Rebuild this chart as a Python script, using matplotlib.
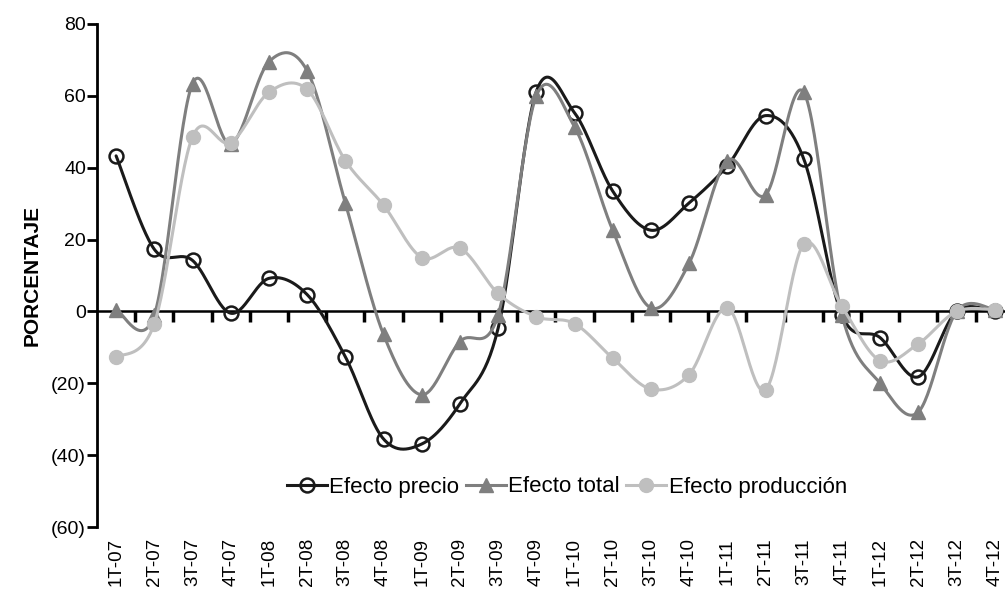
import numpy as np
import matplotlib
matplotlib.use('agg')
import matplotlib.pyplot as plt
from matplotlib.ticker import FuncFormatter, FixedLocator
from matplotlib.lines import Line2D

plt.rcParams['font.family'] = ['Liberation Sans', 'DejaVu Sans']

quarters = ['1T-07', '2T-07', '3T-07', '4T-07', '1T-08', '2T-08', '3T-08', '4T-08',
            '1T-09', '2T-09', '3T-09', '4T-09', '1T-10', '2T-10', '3T-10', '4T-10',
            '1T-11', '2T-11', '3T-11', '4T-11', '1T-12', '2T-12', '3T-12', '4T-12']

efecto_precio = [43.3, 17.3, 14.2, -0.5, 9.2, 4.7, -12.6, -35.5,
                 -36.9, -25.7, -4.7, 61.2, 55.3, 33.5, 22.6, 30.2,
                 40.5, 54.5, 42.5, -1.0, -7.3, -18.2, 0.0, 0.0]
efecto_total = [0.5, -1.0, 63.4, 46.6, 69.5, 67.0, 30.2, -6.4,
                -23.2, -8.4, -1.0, 60.0, 51.4, 22.6, 1.0, 13.4,
                42.0, 32.4, 61.0, -1.0, -20.0, -28.0, 0.0, 0.5]
efecto_produccion = [-12.8, -3.4, 48.6, 47.0, 61.0, 61.8, 42.0, 29.6,
                     15.0, 17.6, 5.0, -1.5, -3.4, -13.0, -21.6, -17.6,
                     1.0, -21.8, 18.7, 1.4, -13.7, -9.0, 0.0, 0.5]


def smooth(y, n=30):
    # bezier smoothing like the spreadsheet "smoothed line"
    y = np.asarray(y, dtype=float)
    x = np.arange(len(y), dtype=float)
    xs, ys = [], []
    for i in range(len(y) - 1):
        p0 = (x[max(i - 1, 0)], y[max(i - 1, 0)])
        p1 = (x[i], y[i])
        p2 = (x[i + 1], y[i + 1])
        p3 = (x[min(i + 2, len(y) - 1)], y[min(i + 2, len(y) - 1)])
        c1 = (p1[0] + (p2[0] - p0[0]) / 6, p1[1] + (p2[1] - p0[1]) / 6)
        c2 = (p2[0] - (p3[0] - p1[0]) / 6, p2[1] - (p3[1] - p1[1]) / 6)
        t = np.linspace(0, 1, n)
        for k in range(2):
            pts = ((1 - t) ** 3 * p1[k] + 3 * (1 - t) ** 2 * t * c1[k]
                   + 3 * (1 - t) * t ** 2 * c2[k] + t ** 3 * p2[k])
            (xs if k == 0 else ys).append(pts)
    return np.concatenate(xs), np.concatenate(ys)


fig = plt.figure(figsize=(10.05, 5.91), dpi=100)
ax = fig.add_axes([97 / 1005, 1 - 527 / 591, 908 / 1005, 503 / 591])

x = np.arange(len(quarters))
series = [
    (efecto_precio, 'Efecto precio', '#1a1a1a', 'o', dict(markerfacecolor='none', markeredgewidth=1.8, markersize=10)),
    (efecto_total, 'Efecto total', '#7f7f7f', '^', dict(markersize=10)),
    (efecto_produccion, 'Efecto producción', '#bfbfbf', 'o', dict(markersize=10)),
]
handles = []
for z, (vals, lab, col, mk, mkw) in enumerate(series):
    sx, sy = smooth(vals)
    ax.plot(sx, sy, color=col, lw=2.2, zorder=3 + z, solid_capstyle='round')
    ax.plot(x, vals, ls='none', marker=mk, color=col, zorder=3 + z, **mkw)
    handles.append(Line2D([], [], color=col, lw=2.2, marker=mk, **mkw))

ax.set_xlim(-0.5, -0.5 + 908 / 38.2)
ax.set_ylim(-60, 80)
ax.set_yticks(np.arange(-60, 81, 20))
ax.yaxis.set_major_formatter(FuncFormatter(lambda v, p: f'({abs(int(v))})' if v < 0 else f'{int(v)}'))
ax.tick_params(axis='y', direction='out', length=7, width=2, labelsize=14, pad=1)
ax.spines['left'].set_linewidth(2)
for s in ['top', 'right', 'bottom']:
    ax.spines[s].set_visible(False)

# category labels at the bottom
ax.set_xticks(x)
ax.set_xticklabels(quarters, rotation=90, fontsize=13.5)
ax.tick_params(axis='x', length=0, pad=8)

# zero line with tick marks between categories
zero = ax.secondary_xaxis(60 / 140)
zero.spines['bottom'].set_linewidth(1.8)
zero.xaxis.set_major_locator(FixedLocator(np.arange(0.5, 23.6, 1)))
zero.tick_params(axis='x', direction='out', length=8, width=2.5, labelbottom=False)

ax.set_ylabel('PORCENTAJE', fontsize=15, fontweight='bold', labelpad=7)

fig.legend(handles, [s[1] for s in series], loc='center', bbox_to_anchor=(567 / 1005, 1 - 487 / 591),
           ncol=3, frameon=False, fontsize=16, handlelength=1.8, handletextpad=0.1, columnspacing=0.3)

fig.savefig('out.png', dpi=100)
